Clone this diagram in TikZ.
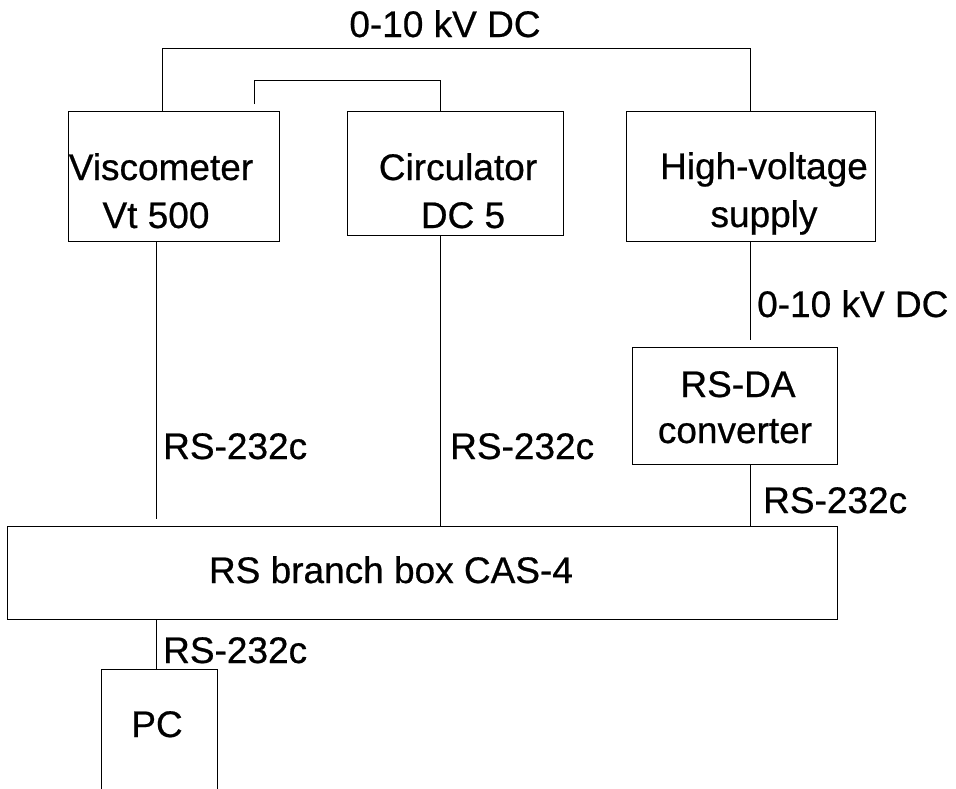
\documentclass[tikz,border=0pt]{standalone}
\usepackage{fontspec}
\setmainfont{Liberation Sans}[BoldFont=Liberation Sans, BoldFeatures={FakeBold=0.6}]
\begin{document}
\begin{tikzpicture}[x=1pt,y=-1pt,
  box/.style={draw, line width=1pt, inner sep=0pt, anchor=north west},
  lbl/.style={anchor=base, inner sep=0pt, font=\fontsize{37}{44}\selectfont\bfseries},
  lblw/.style={lbl, anchor=base west},
  wire/.style={line width=1pt}]
\useasboundingbox (0,0) rectangle (956,788);
\clip (0,0) rectangle (956,788);
% boxes
\node[box, minimum width=211pt, minimum height=130pt] (visc) at (68,111) {};
\node[box, minimum width=216pt, minimum height=124pt] (circ) at (347,111) {};
\node[box, minimum width=249pt, minimum height=130pt] (hv) at (626,111) {};
\node[box, minimum width=205pt, minimum height=117pt] (rsda) at (632,347) {};
\node[box, minimum width=830pt, minimum height=93pt] (branch) at (7,526) {};
\node[box, minimum width=116pt, minimum height=160pt] (pc) at (101,669) {};
% box texts
\node[lbl] (t1) at (161,180) {Viscometer};
\node[lbl] (t2) at (156,228) {Vt 500};
\node[lbl] (t3) at (458,180) {Circulator};
\node[lbl] (t4) at (463,228) {DC 5};
\node[lbl] (t5) at (764,179) {High-voltage};
\node[lbl] (t6) at (764,227) {supply};
\node[lbl] (t7) at (738,397) {RS-DA};
\node[lbl] (t8) at (735,443) {converter};
\node[lbl] (t9) at (391,583) {RS branch box CAS-4};
\node[lbl] (t10) at (157,737) {PC};
% connector labels
\node[lbl] (l1) at (445,37) {0-10 kV DC};
\node[lblw] (l2) at (757,317) {0-10 kV DC};
\node[lblw] (l3) at (163,459) {RS-232c};
\node[lblw] (l4) at (450,459) {RS-232c};
\node[lblw] (l5) at (763,513) {RS-232c};
\node[lblw] (l6) at (163,663) {RS-232c};
% connector helper points
\coordinate (vt) at (162,48);
\coordinate (ht) at (750,48);
\coordinate (cfree) at (254,104);
\coordinate (c80) at (440,80);
\coordinate (vb) at (156,519);
\coordinate (hb) at (750,340);
% connectors
\draw[wire] (visc.north -| vt) -- (vt) -- (ht) -- (hv.north -| ht);
\draw[wire] (cfree) |- (c80) -- (circ.north -| c80);
\draw[wire] (visc.south -| vb) -- (vb);
\draw[wire] (circ.south -| c80) -- (branch.north -| c80);
\draw[wire] (hv.south -| hb) -- (hb);
\draw[wire] (rsda.south -| hb) -- (branch.north -| hb);
\draw[wire] (branch.south -| vb) -- (pc.north -| vb);
\end{tikzpicture}
\end{document}
